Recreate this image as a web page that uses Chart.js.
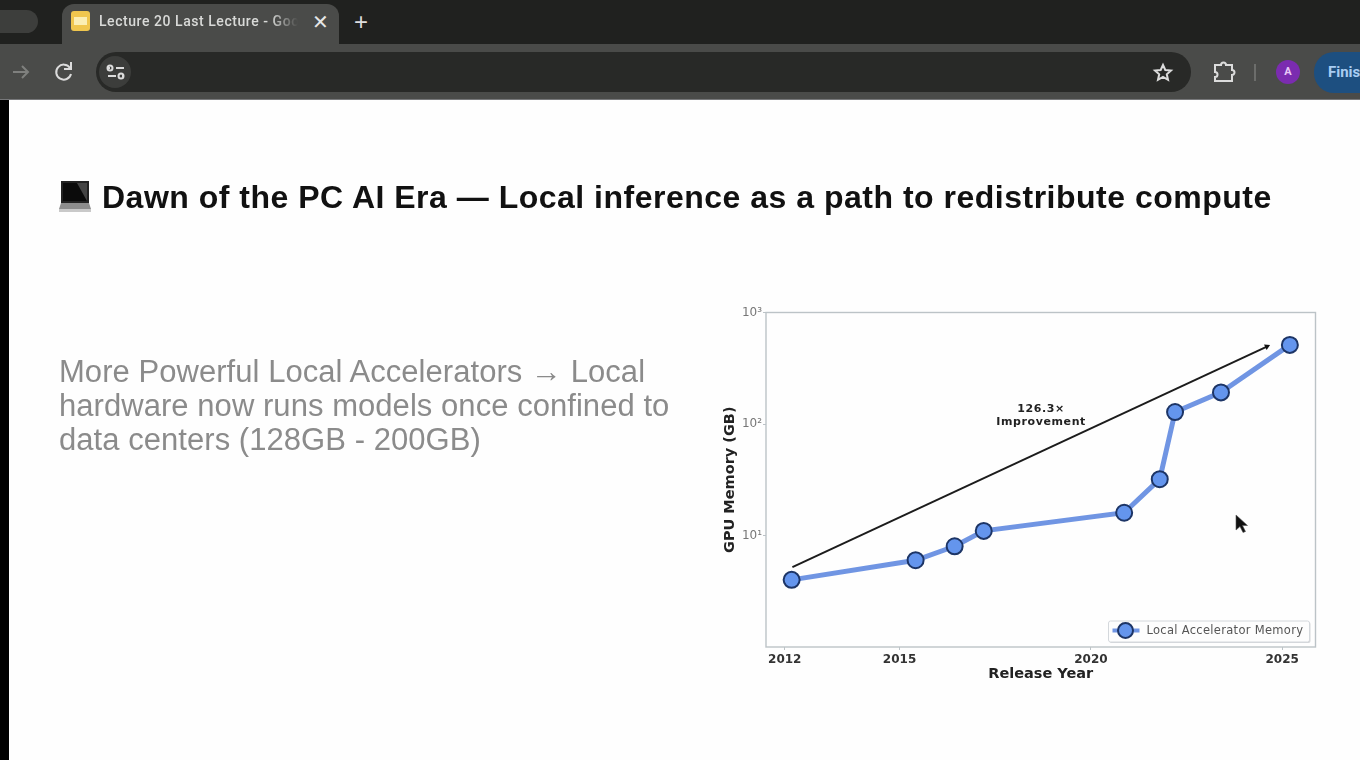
<!DOCTYPE html>
<html>
<head>
<meta charset="utf-8">
<title>Dawn of the PC AI Era</title>
<script src="https://cdn.jsdelivr.net/npm/chart.js@4"></script>
<style>
  html, body { margin: 0; padding: 0; width: 1360px; height: 760px; overflow: hidden; background: #fefefe; }
  #screen { position: relative; width: 1360px; height: 760px; overflow: hidden; filter: blur(0.7px); font-family: "Liberation Sans", Arial, sans-serif; }
  #screen > * { position: absolute; }
  .tabbar { left: 0; top: 0; width: 1360px; height: 45px; background: #20211f; }
  .toolbar { left: 0; top: 44px; width: 1360px; height: 56px; background: #4a4b49; border-bottom: 1px solid #77787a; box-sizing: border-box; }
  .prevtab { left: -20px; top: 10px; width: 58px; height: 23px; border-radius: 12px; background: #3d3e3c; }
  .tab { left: 62px; top: 4px; width: 277px; height: 41px; background: #4a4b49; border-radius: 12px 12px 0 0; }
  .favicon { left: 71px; top: 11px; width: 19px; height: 20px; border-radius: 3px; background: #f0c64e; }
  .favicon i { position: absolute; left: 3px; top: 6px; width: 13px; height: 8px; background: #fbeeb4; }
  .tabtitle { left: 99px; top: 13px; width: 199px; height: 18px; overflow: hidden; white-space: nowrap; color: #d9dad8; font: 500 14px "Roboto", sans-serif; letter-spacing: 0.55px; -webkit-mask-image: linear-gradient(to right, #000 86%, transparent 100%); }
  .tabx { left: 312px; top: 10px; color: #e6e6e6; font: 20px "Liberation Sans", sans-serif; }
  .tabplus { left: 354px; top: 8px; color: #dedede; font: 24px "Liberation Sans", sans-serif; }
  .omnibox { left: 96px; top: 52px; width: 1095px; height: 40px; border-radius: 20px; background: #282927; }
  .sitebtn { left: 99px; top: 56px; width: 32px; height: 32px; border-radius: 16px; background: #3c3d3b; }
  .finish { left: 1314px; top: 52px; width: 80px; height: 41px; border-radius: 20px; background: #1d4f80; color: #a9cdf2; font: bold 15px "Roboto", sans-serif; line-height: 41px; text-indent: 14px; overflow: hidden; }
  .avatar { left: 1276px; top: 60px; width: 24px; height: 24px; border-radius: 12px; background: #7b2cb0; color: #e8c8f8; font: bold 11px/24px "Roboto", sans-serif; text-align: center; }
  .sep { left: 1254px; top: 64px; width: 2px; height: 17px; background: #6c6d6b; }
  .edge { left: 0; top: 100px; width: 9px; height: 660px; background: #000; }
  .heading { left: 102px; top: 179px; white-space: nowrap; color: #111; font: bold 32px/36px "Liberation Sans", Arial, sans-serif; letter-spacing: 0.5px; }
  .body { left: 59px; top: 355px; width: 640px; color: #8b8b8b; font: 31px/34px "Liberation Sans", Arial, sans-serif; letter-spacing: 0.05px; white-space: nowrap; }
  #wrap { left: 710px; top: 300px; width: 620px; height: 390px; }
</style>
</head>
<body>
<div id="screen">
  <div class="tabbar"></div>
  <div class="toolbar"></div>
  <div class="prevtab"></div>
  <div class="tab"></div>
  <div class="favicon"><i></i></div>
  <div class="tabtitle">Lecture 20 Last Lecture - Google Slides</div>
  <div class="tabx">✕</div>
  <div class="tabplus">+</div>
  <div class="omnibox"></div>
  <div class="sitebtn"></div>
  <svg style="left:0;top:44px" width="1360" height="56" fill="none" stroke="#dcdcdc" stroke-width="2">
    <path d="M13 28h15M22 22l6 6-6 6" stroke="#7f807e"/>
    <path d="M70 24a7.500 7.500 0 1 0 1 6M71 18v7h-7"/>
    <path d="M108 24h2M116 24h8M108 32h8M122 32h2"/>
    <circle cx="110" cy="24" r="2.500"/><circle cx="121" cy="32" r="2.500"/>
    <path d="M1163 21l2.300 5 5.700.6-4.200 3.700 1.200 5.500-5-2.900-5 2.900 1.200-5.500-4.200-3.700 5.700-.6z"/>
    <path d="M1215 21h6a2.500 2.500 0 0 1 5 0h6v5a2.500 2.500 0 0 1 0 5v6h-17v-4a2.500 2.500 0 0 0 0-5z"/>
  </svg>
  <div class="sep"></div>
  <div class="avatar">A</div>
  <div class="finish">Finish</div>
  <div class="edge"></div>

  <svg style="left:59px;top:180px" width="33" height="33">
    <path d="M2 1h28v22H2z" fill="#222"/>
    <path d="M4 3h24v18H4z" fill="#0b0b0b"/>
    <path d="M18 3h10v18z" fill="#444"/>
    <path d="M2 23h28l2 6H0z" fill="#8d8d8d"/>
    <path d="M0 29h32v3H0z" fill="#c9c9c9"/>
  </svg>
  <div class="heading">Dawn of the PC AI Era — Local inference as a path to redistribute compute</div>
  <div class="body">More Powerful Local Accelerators → Local<br>hardware now runs models once confined to<br>data centers (128GB - 200GB)</div>

  <div id="wrap"><canvas id="chart" width="620" height="390"></canvas></div>

  <svg style="left:1234px;top:513px" width="16" height="22">
    <path d="M2 2v15l4-3.500 3 6 2.500-1-3-6h5z" fill="#111" stroke="#555" stroke-width="0.6"/>
  </svg>
</div>

<script>
// Datos
var releaseYears = [2012.18, 2015.42, 2016.44, 2017.2, 2020.87, 2021.8, 2022.2, 2023.4, 2025.2];
var memoryGB = [4, 6, 8, 11, 16, 32, 128, 192, 512];
var arrowYears = [2012.2, 2024.6];
var arrowValues = [5.2, 495];
var xTickValues = [2012, 2015, 2020, 2025];
var yTickValues = [10, 100, 1000];
var noteYear = 2018.7;
var noteValue = 118;
var noteLines = ['126.3×', 'Improvement'];
var seriesLabel = 'Local Accelerator Memory';

var sansFont = '"DejaVu Sans", sans-serif';
var lineColor = 'rgba(100, 140, 225, 0.92)';
var markerFill = '#6495ed';
var markerEdge = '#1d3566';
var frameColor = '#bcc3c7';

function toPoints(xs, ys) {
    return xs.map(function (x, i) { return { x: x, y: ys[i] }; });
}

function superscript(n) {
    var sup = { 1: '¹', 2: '²', 3: '³' };
    return '10' + sup[Math.round(Math.log10(n))];
}

// Marco, nota y leyenda que Chart.js no coloca dentro del area
var extras = {
    id: 'extras',
    beforeDatasetsDraw: function (chart) {
        var a = chart.chartArea, ctx = chart.ctx;
        ctx.save();
        ctx.strokeStyle = frameColor;
        ctx.lineWidth = 1.4;
        ctx.strokeRect(a.left, a.top, a.right - a.left, a.bottom - a.top);
        ctx.restore();
    },
    afterDatasetsDraw: function (chart) {
        var a = chart.chartArea, ctx = chart.ctx;
        ctx.save();

        // nota
        var nx = chart.scales.x.getPixelForValue(noteYear);
        var ny = chart.scales.y.getPixelForValue(noteValue);
        ctx.fillStyle = '#222';
        ctx.font = 'bold 11px ' + sansFont;
        ctx.letterSpacing = '0.6px';
        ctx.textAlign = 'center';
        ctx.textBaseline = 'middle';
        ctx.fillText(noteLines[0], nx, ny - 6.5);
        ctx.fillText(noteLines[1], nx, ny + 6.5);
        ctx.letterSpacing = '0px';

        // leyenda
        var bx = a.right - 207, by = a.bottom - 26, bw = 201, bh = 21;
        ctx.fillStyle = '#d5d7da';
        ctx.beginPath();
        ctx.roundRect(bx + 1, by + 1, bw, bh, 2);
        ctx.fill();
        ctx.fillStyle = '#fdfdfd';
        ctx.strokeStyle = '#d4d8dc';
        ctx.lineWidth = 1;
        ctx.beginPath();
        ctx.roundRect(bx, by, bw, bh, 2);
        ctx.fill();
        ctx.stroke();
        ctx.strokeStyle = lineColor;
        ctx.lineWidth = 4;
        ctx.beginPath();
        ctx.moveTo(bx + 4, by + 9.5);
        ctx.lineTo(bx + 31, by + 9.5);
        ctx.stroke();
        ctx.fillStyle = markerFill;
        ctx.strokeStyle = markerEdge;
        ctx.lineWidth = 2;
        ctx.beginPath();
        ctx.arc(bx + 17, by + 9.5, 7.5, 0, Math.PI * 2);
        ctx.fill();
        ctx.stroke();
        ctx.fillStyle = '#555';
        ctx.font = '11.5px ' + sansFont;
        ctx.letterSpacing = '0.3px';
        ctx.textAlign = 'left';
        ctx.fillText(chart.data.datasets[1].label, bx + 38, by + 10.5);
        ctx.restore();
    }
};

new Chart(document.getElementById('chart'), {
    type: 'line',
    data: {
        datasets: [
            {
                label: 'Trend',
                data: toPoints(arrowYears, arrowValues),
                borderColor: '#1c1c1c',
                borderWidth: 2,
                pointStyle: 'triangle',
                pointRadius: [0, 3.5],
                pointRotation: [0, 65],
                pointBackgroundColor: '#111',
                pointBorderColor: '#111',
                pointBorderWidth: 0,
                order: 2
            },
            {
                label: seriesLabel,
                data: toPoints(releaseYears, memoryGB),
                borderColor: lineColor,
                borderWidth: 5,
                pointRadius: 8,
                pointBorderWidth: 2,
                pointBackgroundColor: markerFill,
                pointBorderColor: markerEdge,
                order: 1
            }
        ]
    },
    options: {
        responsive: false,
        animation: false,
        events: [],
        layout: { padding: { top: 12.5, right: 14.5, bottom: 7, left: 12 } },
        plugins: { legend: { display: false }, tooltip: { enabled: false } },
        scales: {
            x: {
                type: 'linear',
                min: 2011.51,
                max: 2025.87,
                afterBuildTicks: function (axis) {
                    axis.ticks = xTickValues.map(function (v) { return { value: v }; });
                },
                afterFit: function (axis) { axis.height = 36; },
                grid: { drawOnChartArea: false, drawTicks: true, tickLength: 3, color: frameColor },
                border: { display: false },
                ticks: {
                    autoSkip: false,
                    maxRotation: 0,
                    padding: 3,
                    color: '#333',
                    font: { family: sansFont, size: 12, weight: 'bold' },
                    callback: function (v) { return String(v); }
                },
                title: {
                    display: true,
                    text: 'Release Year',
                    color: '#222',
                    padding: 0,
                    font: { family: sansFont, size: 14.5, weight: 'bold' }
                }
            },
            y: {
                type: 'logarithmic',
                min: 1,
                max: 1000,
                afterBuildTicks: function (axis) {
                    axis.ticks = yTickValues.map(function (v) { return { value: v }; });
                },
                afterFit: function (axis) { axis.width = 44; },
                grid: { drawOnChartArea: false, drawTicks: true, tickLength: 3, color: frameColor },
                border: { display: false },
                ticks: {
                    padding: 1,
                    color: '#777',
                    font: { family: sansFont, size: 12 },
                    callback: function (v) { return superscript(v); }
                },
                title: {
                    display: true,
                    text: 'GPU Memory (GB)',
                    color: '#222',
                    padding: 0,
                    font: { family: sansFont, size: 14.5, weight: 'bold' }
                }
            }
        }
    },
    plugins: [extras]
});
</script>
</body>
</html>
